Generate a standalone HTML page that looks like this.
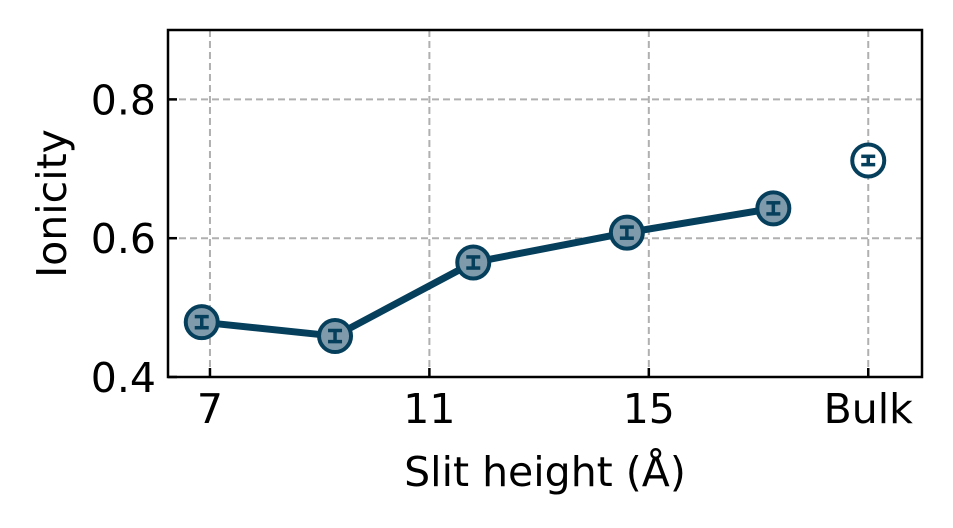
<!DOCTYPE html>
<html><head><meta charset="utf-8"><style>body{margin:0;background:#fff}svg{display:block}text{font-family:"DejaVu Sans","Liberation Sans",sans-serif;fill:#000}</style></head>
<body>
<svg id="c" width="953" height="528" xmlns="http://www.w3.org/2000/svg"></svg>
<script>
const xVals=[6.85,9.28,11.8,14.6,17.27];
const yVals=[0.479,0.459,0.565,0.608,0.643];
const yErr=[0.008,0.008,0.008,0.008,0.008];
const bulkX=[19];
const bulkY=[0.712];
const bulkErr=[0.006];
const xTicks=[7,11,15,19];
const xTickLabels=['7','11','15','Bulk'];
const yTicks=[0.4,0.6,0.8];
const yTickLabels=['0.4','0.6','0.8'];
const L=168,R=922,T=30,B=377,xmin=6.235,xmax=19.98,ymin=0.4,ymax=0.9;
const sx=v=>L+(v-xmin)/(xmax-xmin)*(R-L);
const sy=v=>B-(v-ymin)/(ymax-ymin)*(B-T);
const svg=document.getElementById('c');const NS='http://www.w3.org/2000/svg';
function mk(t,a,p){const e=document.createElementNS(NS,t);for(const k in a)e.setAttribute(k,a[k]);(p||svg).appendChild(e);return e;}
const C='#053f5c';const FS=41;
xTicks.forEach((v,i)=>{const g=mk('line',{x1:sx(v),x2:sx(v),y1:T,y2:B,stroke:'#b0b0b0','stroke-width':2,'stroke-dasharray':'7,4'});

const t=mk('line',{x1:sx(v),x2:sx(v),y1:B,y2:B-9,stroke:'#000','stroke-width':2.5});

const l=mk('text',{x:sx(v),y:B+46,'font-size':FS,'text-anchor':'middle'});l.textContent=xTickLabels[i];
});
yTicks.forEach((v,i)=>{const g=mk('line',{x1:L,x2:R,y1:sy(v),y2:sy(v),stroke:'#b0b0b0','stroke-width':2,'stroke-dasharray':'7,4'});

const t=mk('line',{x1:L,x2:L+9,y1:sy(v),y2:sy(v),stroke:'#000','stroke-width':2.5});

const l=mk('text',{x:L-12,y:sy(v)+15,'font-size':FS,'text-anchor':'end'});l.textContent=yTickLabels[i];
});
const fr=mk('rect',{x:L,y:T,width:R-L,height:B-T,fill:'none',stroke:'#000','stroke-width':2.5});

const ln=mk('polyline',{points:xVals.map((x,i)=>sx(x)+','+sy(yVals[i])).join(' '),fill:'none',stroke:C,'stroke-width':7});

function errbar(x,y,e){const g=mk('g',{});const X=sx(x);
mk('line',{x1:X,x2:X,y1:sy(y-e),y2:sy(y+e),stroke:C,'stroke-width':3.5},g);
mk('line',{x1:X-7,x2:X+7,y1:sy(y-e),y2:sy(y-e),stroke:C,'stroke-width':3.5},g);
mk('line',{x1:X-7,x2:X+7,y1:sy(y+e),y2:sy(y+e),stroke:C,'stroke-width':3.5},g);return g;}
xVals.forEach((x,i)=>{const c=mk('circle',{cx:sx(x),cy:sy(yVals[i]),r:16,fill:'#7f9bab',stroke:C,'stroke-width':4});

const e=errbar(x,yVals[i],yErr[i]);});
bulkX.forEach((x,i)=>{const c=mk('circle',{cx:sx(x),cy:sy(bulkY[i]),r:16,fill:'#fff',stroke:C,'stroke-width':4});

const e=errbar(x,bulkY[i],bulkErr[i]);});
const xt=mk('text',{x:(L+R)/2,y:486,'font-size':FS,'text-anchor':'middle'});xt.textContent='Slit height (Å)';

const yt=mk('text',{x:0,y:0,'font-size':FS,'text-anchor':'middle',transform:'translate(66,'+((T+B)/2)+') rotate(-90)'});yt.textContent='Ionicity';

</script>
</body></html>
